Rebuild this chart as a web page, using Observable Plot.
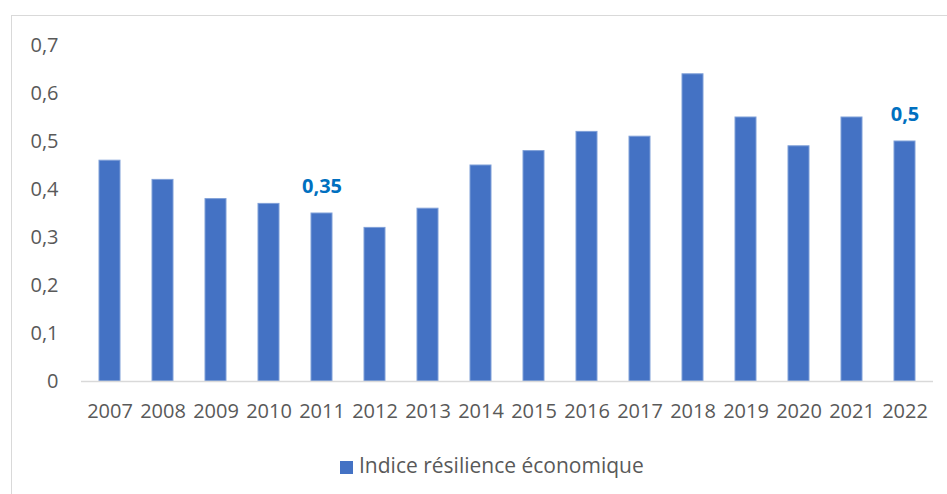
<!DOCTYPE html>
<html>
<head>
<meta charset="utf-8">
<script src="https://cdn.jsdelivr.net/npm/d3@7"></script>
<script src="https://cdn.jsdelivr.net/npm/@observablehq/plot@0.6"></script>
<style>
  html, body { margin: 0; padding: 0; background: #fff; overflow: hidden; }
  #wrap { position: relative; width: 947px; height: 494px; font-family: "Open Sans", sans-serif; }
  #frame { position: absolute; left: 11px; top: 15px; width: 2000px; height: 2000px; border: 1.5px solid #d9d9d9; box-sizing: border-box; }
  #chart { position: absolute; left: 0; top: 0; }
  #legend { position: absolute; left: 340px; top: 451px; font-size: 21px; color: #595959; white-space: nowrap; }
  #legend .sw { display: inline-block; width: 13px; height: 13px; background: #4472C4; margin-right: 6px; vertical-align: -1px; }
</style>
</head>
<body>
<div id="wrap">
  <div id="frame"></div>
  <div id="chart"></div>
  <div id="legend"></div>
</div>
<script>
const years = ["2007","2008","2009","2010","2011","2012","2013","2014","2015","2016","2017","2018","2019","2020","2021","2022"];
const values = [0.46,0.42,0.38,0.37,0.35,0.32,0.36,0.45,0.48,0.52,0.51,0.64,0.55,0.49,0.55,0.50];
const labeledYears = ["2011","2022"];
const yTicks = [0,0.1,0.2,0.3,0.4,0.5,0.6,0.7];
const seriesName = "Indice résilience économique";

const data = years.map((y, i) => ({year: y, value: values[i]}));
const fmt = d => String(+d.toFixed(2)).replace(".", ",");

const chart = Plot.plot({
  width: 947,
  height: 440,
  marginTop: 45,
  marginBottom: 59,
  marginLeft: 81,
  marginRight: 14,
  style: {fontFamily: "Open Sans, sans-serif", fontSize: "20px", color: "#595959", background: "transparent", overflow: "visible"},
  x: {domain: years, paddingInner: 0.6, paddingOuter: 0.3, label: null},
  y: {domain: [0, 0.7], label: null},
  marks: [
    Plot.axisY({ticks: yTicks, tickFormat: fmt, tickSize: 0, tickPadding: 23, fontSize: 20, fill: "#595959"}),
    Plot.axisX({tickSize: 0, tickPadding: 22, fontSize: 20, fill: "#595959"}),
    Plot.barY(data, {x: "year", y: "value", fill: "#4472C4", stroke: "#7f9fd8", strokeWidth: 1}),
    Plot.ruleY([0], {stroke: "#d9d9d9", strokeWidth: 1.5}),
    Plot.text(data.filter(d => labeledYears.includes(d.year)), {
      x: "year", y: "value", text: d => fmt(d.value), dy: -27,
      fill: "#0070C0", fontWeight: "bold", fontSize: 20
    })
  ]
});
document.getElementById("chart").appendChild(chart);
document.getElementById("legend").innerHTML = `<span class="sw"></span>${seriesName}`;
</script>
</body>
</html>
